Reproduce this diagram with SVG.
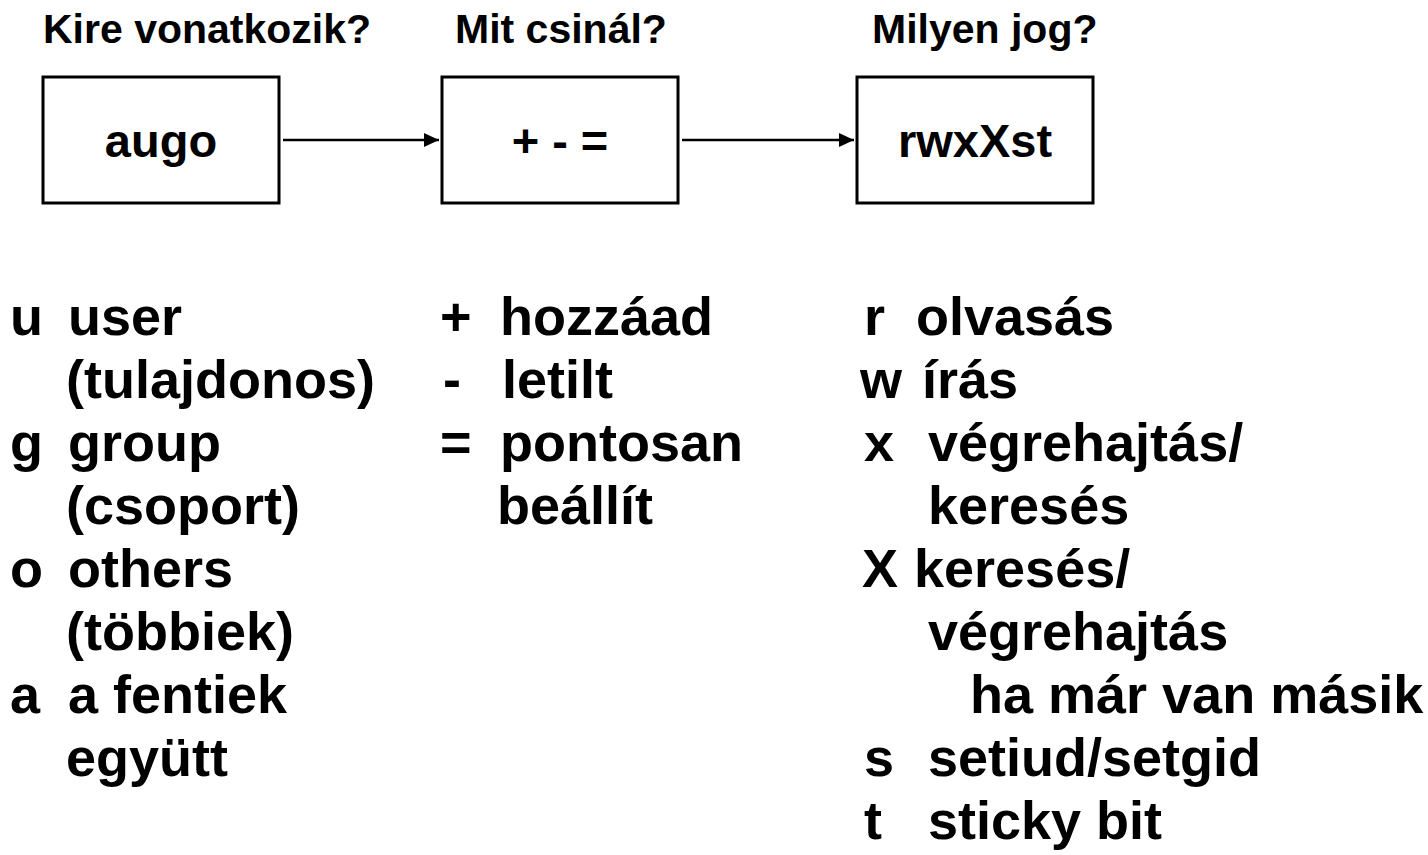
<svg xmlns="http://www.w3.org/2000/svg" width="1428" height="855" viewBox="0 0 1428 855">
<style>
text{font-family:"Liberation Sans",Arial,sans-serif;font-weight:bold;fill:#000}
.h{font-size:41px}
.b{font-size:47px;text-anchor:middle}
.l{font-size:54px}
.box{fill:#fff;stroke:#000;stroke-width:3}
.edge{stroke:#000;stroke-width:2.5;fill:none}
</style>
<defs>
<marker id="ah" markerWidth="16" markerHeight="14" refX="15" refY="7" orient="auto" markerUnits="userSpaceOnUse">
<path d="M0,0 L15,7 L0,14 z" fill="#000"/>
</marker>
</defs>
<rect width="1428" height="855" fill="#fff"/>
<g id="headers">
<text class="h" x="43" y="43">Kire vonatkozik?</text>
<text class="h" x="455" y="43">Mit csinál?</text>
<text class="h" x="872" y="43">Milyen jog?</text>
</g>
<g id="node-augo">
<rect class="box" x="43" y="77" width="236" height="126"/>
<text class="b" x="161" y="157">augo</text>
</g>
<g id="node-ops">
<rect class="box" x="442" y="77" width="236" height="126"/>
<text class="b" x="560" y="157">+ - =</text>
</g>
<g id="node-perm">
<rect class="box" x="857" y="77" width="236" height="126"/>
<text class="b" x="975" y="157">rwxXst</text>
</g>
<g id="connectors">
<line class="edge" x1="283" y1="140" x2="439" y2="140" marker-end="url(#ah)"/>
<line class="edge" x1="682" y1="140" x2="854" y2="140" marker-end="url(#ah)"/>
</g>
<g id="list-who">
<text class="l" x="10" y="335">u</text><text class="l" x="68" y="335">user</text>
<text class="l" x="66" y="398">(tulajdonos)</text>
<text class="l" x="10" y="461">g</text><text class="l" x="68" y="461">group</text>
<text class="l" x="66" y="524">(csoport)</text>
<text class="l" x="10" y="587">o</text><text class="l" x="68" y="587">others</text>
<text class="l" x="66" y="650">(többiek)</text>
<text class="l" x="10" y="713">a</text><text class="l" x="68" y="713">a fentiek</text>
<text class="l" x="66" y="776">együtt</text>
</g>
<g id="list-ops">
<text class="l" x="440" y="335">+</text><text class="l" x="500" y="335">hozzáad</text>
<text class="l" x="443" y="398">-</text><text class="l" x="502" y="398">letilt</text>
<text class="l" x="440" y="461">=</text><text class="l" x="500" y="461">pontosan</text>
<text class="l" x="497" y="524">beállít</text>
</g>
<g id="list-perm">
<text class="l" x="864" y="335">r</text><text class="l" x="916" y="335">olvasás</text>
<text class="l" x="860" y="398">w</text><text class="l" x="922" y="398">írás</text>
<text class="l" x="864" y="461">x</text><text class="l" x="928" y="461">végrehajtás/</text>
<text class="l" x="928" y="524">keresés</text>
<text class="l" x="862" y="587">X</text><text class="l" x="914" y="587">keresés/</text>
<text class="l" x="928" y="650">végrehajtás</text>
<text class="l" x="970" y="713">ha már van másik</text>
<text class="l" x="864" y="776">s</text><text class="l" x="928" y="776">setiud/setgid</text>
<text class="l" x="864" y="839">t</text><text class="l" x="928" y="839">sticky bit</text>
</g>
</svg>
